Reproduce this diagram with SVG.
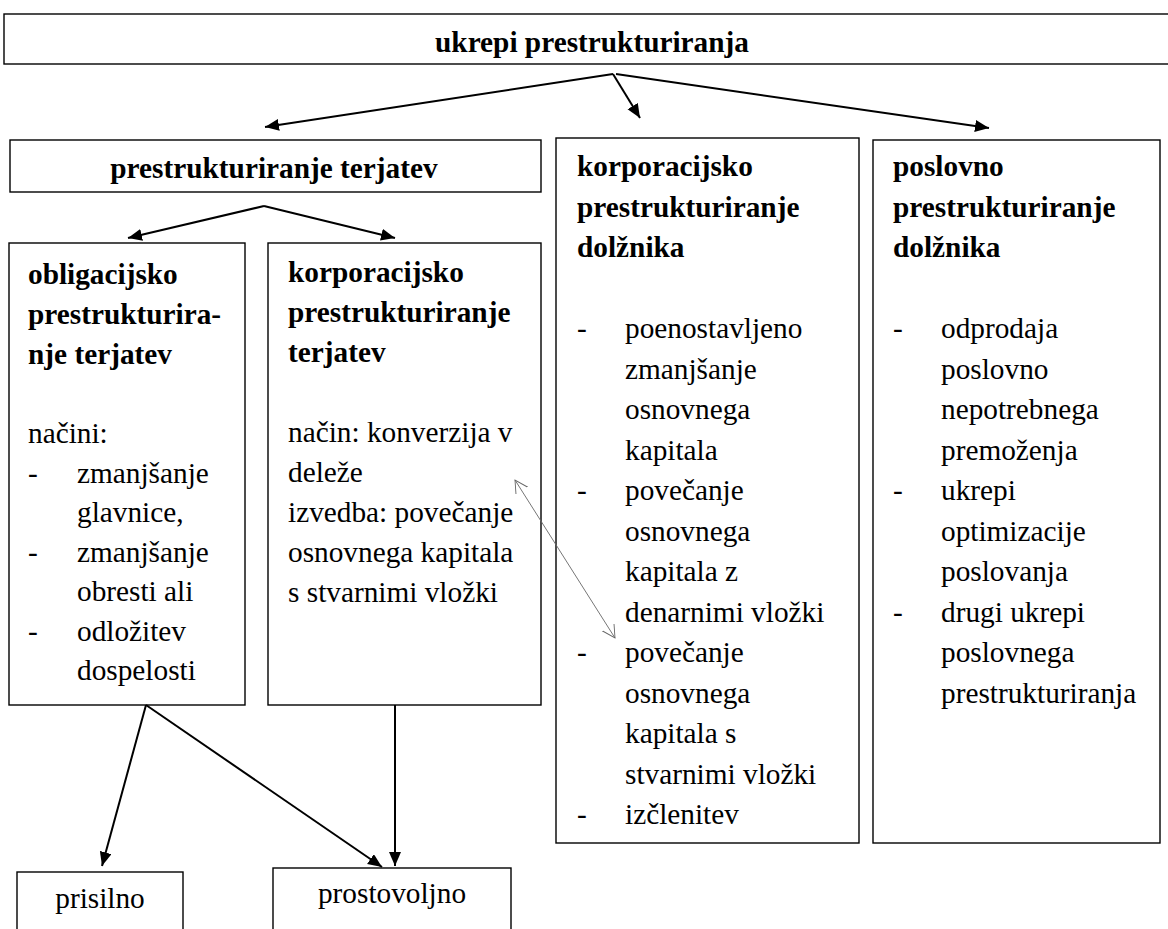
<svg xmlns="http://www.w3.org/2000/svg" width="1168" height="929" viewBox="0 0 1168 929">
<defs>
<style>
.box{fill:#fff;stroke:#000;stroke-width:1.4}
text{font-family:'Liberation Serif','Times New Roman',Tinos,'Nimbus Roman','DejaVu Serif',serif;font-size:29.3px;fill:#000}
.b{font-weight:bold}
.c{stroke:#000;stroke-width:2;fill:none}
.t{stroke:#666;stroke-width:0.9;fill:none}
</style>
<marker id="ah" markerUnits="userSpaceOnUse" markerWidth="16" markerHeight="14" refX="14" refY="6" orient="auto">
<path d="M0,0 L14,6 L0,12 z" fill="#000"/>
</marker>
<marker id="oh" markerUnits="userSpaceOnUse" markerWidth="16" markerHeight="16" refX="13" refY="7" orient="auto-start-reverse">
<path d="M0,0 L13,7 L0,14" fill="none" stroke="#666" stroke-width="0.9"/>
</marker>
</defs>
<rect width="1168" height="929" fill="#fff"/>

<g id="n-top">
<rect class="box" x="4" y="14" width="1170" height="50"/>
<text class="b" x="592" y="52" text-anchor="middle" font-family="Liberation Serif, serif">ukrepi prestrukturiranja</text>
</g>

<g id="n-terjatev">
<rect class="box" x="10" y="140" width="531" height="52"/>
<text class="b" x="274" y="178" text-anchor="middle">prestrukturiranje terjatev</text>
</g>

<g id="n-obligacijsko">
<rect class="box" x="9" y="243" width="236" height="462"/>
<text class="b" x="28" y="284">obligacijsko</text>
<text class="b" x="28" y="324">prestrukturira-</text>
<text class="b" x="28" y="364">nje terjatev</text>
<text x="28" y="443">načini:</text>
<text x="28" y="483">-</text><text x="77" y="483">zmanjšanje</text>
<text x="77" y="522">glavnice,</text>
<text x="28" y="562">-</text><text x="77" y="562">zmanjšanje</text>
<text x="77" y="601">obresti ali</text>
<text x="28" y="641">-</text><text x="77" y="641">odložitev</text>
<text x="77" y="680">dospelosti</text>
</g>

<g id="n-korp-terjatev">
<rect class="box" x="268" y="243" width="273" height="462"/>
<text class="b" x="288" y="282">korporacijsko</text>
<text class="b" x="288" y="322">prestrukturiranje</text>
<text class="b" x="288" y="362">terjatev</text>
<text x="288" y="442">način: konverzija v</text>
<text x="288" y="482">deleže</text>
<text x="288" y="522">izvedba: povečanje</text>
<text x="288" y="562">osnovnega kapitala</text>
<text x="288" y="602">s stvarnimi vložki</text>
</g>

<g id="n-korp-dolznika">
<rect class="box" x="556" y="138" width="303" height="705"/>
<text class="b" x="577" y="176">korporacijsko</text>
<text class="b" x="577" y="216.5">prestrukturiranje</text>
<text class="b" x="577" y="257">dolžnika</text>
<text x="577" y="338">-</text><text x="625" y="338">poenostavljeno</text>
<text x="625" y="378.5">zmanjšanje</text>
<text x="625" y="419">osnovnega</text>
<text x="625" y="459.5">kapitala</text>
<text x="577" y="500">-</text><text x="625" y="500">povečanje</text>
<text x="625" y="540.5">osnovnega</text>
<text x="625" y="581">kapitala z</text>
<text x="625" y="621.5">denarnimi vložki</text>
<text x="577" y="662">-</text><text x="625" y="662">povečanje</text>
<text x="625" y="702.5">osnovnega</text>
<text x="625" y="743">kapitala s</text>
<text x="625" y="783.5">stvarnimi vložki</text>
<text x="577" y="824">-</text><text x="625" y="824">izčlenitev</text>
</g>

<g id="n-poslovno">
<rect class="box" x="873" y="140" width="287" height="703"/>
<text class="b" x="893" y="176">poslovno</text>
<text class="b" x="893" y="216.5">prestrukturiranje</text>
<text class="b" x="893" y="257">dolžnika</text>
<text x="893" y="338">-</text><text x="941" y="338">odprodaja</text>
<text x="941" y="378.5">poslovno</text>
<text x="941" y="419">nepotrebnega</text>
<text x="941" y="459.5">premoženja</text>
<text x="893" y="500">-</text><text x="941" y="500">ukrepi</text>
<text x="941" y="540.5">optimizacije</text>
<text x="941" y="581">poslovanja</text>
<text x="893" y="621.5">-</text><text x="941" y="621.5">drugi ukrepi</text>
<text x="941" y="662">poslovnega</text>
<text x="941" y="702.5">prestrukturiranja</text>
</g>

<g id="n-prisilno">
<rect class="box" x="17" y="872" width="166" height="70"/>
<text x="100" y="908" text-anchor="middle">prisilno</text>
</g>

<g id="n-prostovoljno">
<rect class="box" x="273" y="868" width="238" height="70"/>
<text x="392" y="903" text-anchor="middle">prostovoljno</text>
</g>

<g id="connectors">
<line class="c" x1="613" y1="74" x2="265" y2="127" marker-end="url(#ah)"/>
<line class="c" x1="613" y1="74" x2="640" y2="118" marker-end="url(#ah)"/>
<line class="c" x1="616" y1="74" x2="989" y2="128" marker-end="url(#ah)"/>
<line class="c" x1="264" y1="206" x2="128" y2="238" marker-end="url(#ah)"/>
<line class="c" x1="264" y1="206" x2="395" y2="238" marker-end="url(#ah)"/>
<line class="c" x1="146" y1="705" x2="102" y2="866" marker-end="url(#ah)"/>
<line class="c" x1="146" y1="705" x2="382" y2="867" marker-end="url(#ah)"/>
<line class="c" x1="395" y1="705" x2="395" y2="866" marker-end="url(#ah)"/>
<line class="t" x1="515" y1="480" x2="615" y2="638" marker-start="url(#oh)" marker-end="url(#oh)"/>
</g>
</svg>
